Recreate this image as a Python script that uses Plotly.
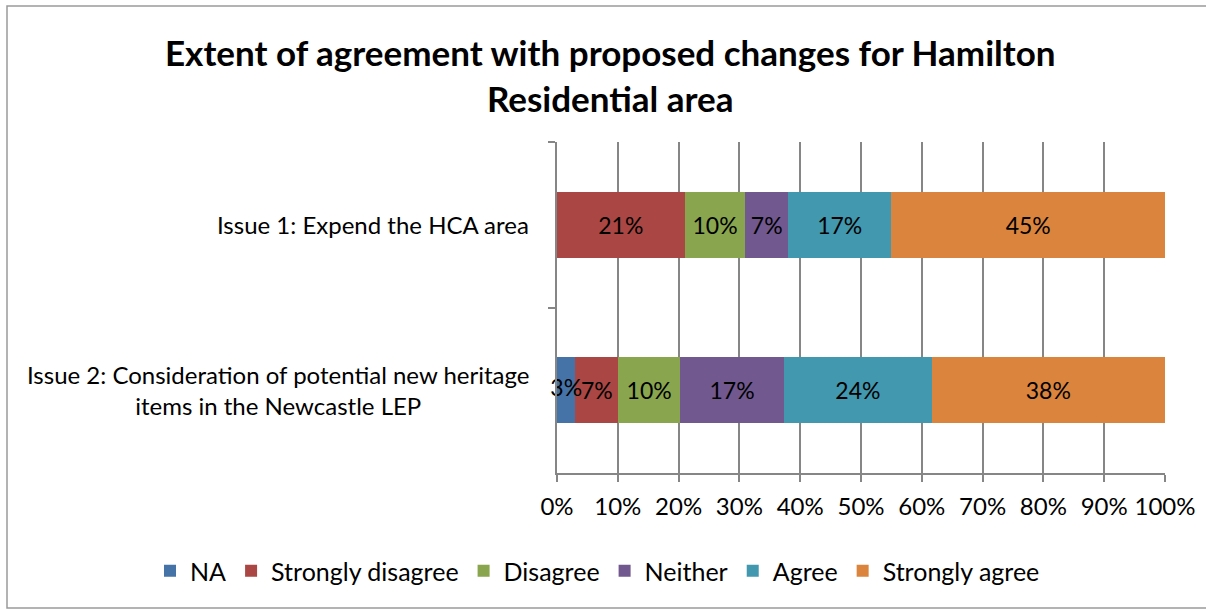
import plotly.graph_objects as go

categories = ["Issue 1: Expend the HCA area",
              "Issue 2: Consideration of potential new heritage<br>items in the Newcastle LEP"]
series_names = ["NA", "Strongly disagree", "Disagree", "Neither", "Agree", "Strongly agree"]
na_vals = [0, 3]
strongly_disagree_vals = [21, 7]
disagree_vals = [10, 10]
neither_vals = [7, 17]
agree_vals = [17, 24]
strongly_agree_vals = [45, 38]
colors = ["#4572A7", "#AA4643", "#89A54E", "#71588F", "#4198AF", "#DB843D"]
tick_vals = [0, 10, 20, 30, 40, 50, 60, 70, 80, 90, 100]
title_text = "<b>Extent of agreement with proposed changes for Hamilton<br>Residential area</b>"

all_vals = [na_vals, strongly_disagree_vals, disagree_vals, neither_vals, agree_vals, strongly_agree_vals]
totals = [sum(v[i] for v in all_vals) for i in range(len(categories))]

FONT = "Lato"
LBL = 23
fig = go.Figure()
for k, (name, vals, col) in enumerate(zip(series_names, all_vals, colors)):
    fig.add_trace(go.Bar(
        y=categories, x=vals, name=name, orientation="h", legendgroup=name,
        marker=dict(color=col, line=dict(width=0)),
        text=[f"{v}%" if (v > 0 and k > 0) else "" for v in vals],
        textposition="inside", insidetextanchor="middle", textangle=0,
        constraintext="none",
        textfont=dict(family=FONT, size=LBL, color="black"),
        hoverinfo="name+x",
    ))

# NA labels drawn on top (they overflow their thin segment, as in the source)
na_x = [100.0 * v / 2 / t for v, t in zip(na_vals, totals)]
fig.add_trace(go.Scatter(
    y=categories, x=na_x, mode="text",
    text=[f"{v}%" if v > 0 else "" for v in na_vals],
    textposition="middle center", textfont=dict(family=FONT, size=LBL, color="black"),
    showlegend=False, hoverinfo="skip", cliponaxis=False,
))

# plot area in pixels
L, R, T, B = 557, 1165, 142, 473
W, H = 1206, 610
pw, ph = R - L, B - T

def px_x(x):
    return (x - L) / pw

def px_y(y):
    return (B - y) / ph

fig.update_layout(
    barmode="stack", barnorm="percent", bargap=0.6,
    width=W, height=H,
    margin=dict(l=L, r=W - R, t=T, b=H - B, pad=0, autoexpand=False),
    paper_bgcolor="white", plot_bgcolor="white",
    font=dict(family=FONT, size=LBL, color="black"),
    showlegend=True,
    legend=dict(orientation="h", x=px_x(150), xanchor="left", y=px_y(571), yanchor="middle",
                font=dict(family=FONT, size=25), traceorder="grouped",
                itemwidth=30, tracegroupgap=5, bgcolor="rgba(0,0,0,0)"),
    uniformtext=dict(minsize=LBL, mode="show"),
    xaxis=dict(range=[0, 100], tickvals=tick_vals, ticktext=[f"{v}%" for v in tick_vals],
               showgrid=True, gridcolor="#868686", gridwidth=1.5,
               showline=True, linecolor="#868686", linewidth=1.5,
               ticks="outside", ticklen=7, tickcolor="#868686", tickwidth=1.5,
               ticklabelstandoff=4,
               tickfont=dict(family=FONT, size=24), zeroline=False, fixedrange=True),
    yaxis=dict(categoryorder="array", categoryarray=categories, autorange="reversed",
               showticklabels=False, tickson="boundaries",
               ticks="outside", ticklen=7, tickcolor="#868686", tickwidth=1.5,
               showline=True, linecolor="#868686", linewidth=1.5,
               showgrid=False, zeroline=False, fixedrange=True),
    shapes=[dict(type="rect", xref="paper", yref="paper",
                 x0=px_x(7), x1=px_x(1212), y0=px_y(608), y1=px_y(6),
                 line=dict(color="#9a9a9a", width=1.5), fillcolor="rgba(0,0,0,0)", layer="below")],
)

fig.add_annotation(x=px_x(610), xref="paper", y=px_y(75), yref="paper", text=title_text,
                   xanchor="center", yanchor="middle", align="center", showarrow=False,
                   font=dict(family=FONT, size=35, color="black"))

for cat in categories:
    fig.add_annotation(x=px_x(531), xref="paper", y=cat, yref="y", text=cat,
                       xanchor="right", yanchor="middle", align="center", showarrow=False,
                       font=dict(family=FONT, size=24, color="black"))

fig.write_html("out.html", config={"displayModeBar": False},
               post_script="document.body.style.margin='0';")
